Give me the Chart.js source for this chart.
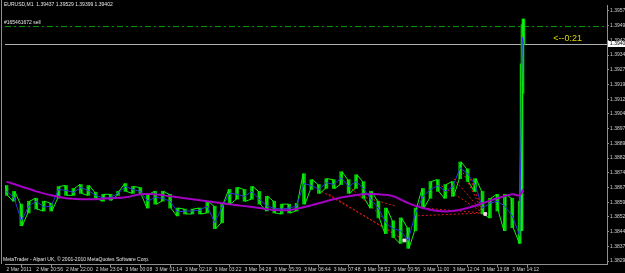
<!DOCTYPE html>
<html>
<head>
<meta charset="utf-8">
<script src="https://cdn.jsdelivr.net/npm/chart.js@4.4.0/dist/chart.umd.min.js"></script>
<style>
  html, body { margin: 0; padding: 0; background: #000; }
  #wrap { width: 625px; height: 273px; position: relative; }
</style>
</head>
<body>
<div id="wrap"><canvas id="chart"></canvas></div>
<script>
// EURUSD M1 samples (bar number, 32 bars per time label)
const barIndex = [0, 8, 16, 24, 32, 40, 48, 56, 64, 72, 80, 88, 96, 104, 112, 120, 128, 136, 144, 152,
    160, 168, 176, 184, 192, 200, 208, 216, 224, 232, 240, 248, 256, 264, 272, 280, 288, 296, 304, 312,
    320, 328, 336, 344, 352, 360, 368, 376, 384, 392, 400, 408, 416, 424, 432, 440, 448, 456, 464, 472,
    480, 488, 496, 504, 512, 520, 528, 536, 544, 552, 554, 555, 556];
const highs = [1.38680, 1.38650, 1.38585, 1.38600, 1.38615, 1.38600, 1.38590, 1.38675, 1.38680, 1.38665,
    1.38685, 1.38680, 1.38645, 1.38635, 1.38635, 1.38650, 1.38690, 1.38675, 1.38670, 1.38635,
    1.38650, 1.38650, 1.38635, 1.38565, 1.38560, 1.38560, 1.38565, 1.38600, 1.38575, 1.38585,
    1.38660, 1.38670, 1.38660, 1.38675, 1.38650, 1.38625, 1.38600, 1.38585, 1.38585, 1.38590,
    1.38740, 1.38710, 1.38685, 1.38715, 1.38710, 1.38750, 1.38710, 1.38735, 1.38700, 1.38650,
    1.38600, 1.38565, 1.38500, 1.38515, 1.38465, 1.38565, 1.38665, 1.38700, 1.38710, 1.38685,
    1.38700, 1.38800, 1.38765, 1.38715, 1.38650, 1.38615, 1.38635, 1.38635, 1.38615,
    1.38600, 1.39300, 1.39500, 1.39529];
const lows = [1.38630, 1.38600, 1.38475, 1.38540, 1.38560, 1.38550, 1.38550, 1.38615, 1.38630, 1.38630,
    1.38640, 1.38630, 1.38615, 1.38600, 1.38605, 1.38630, 1.38650, 1.38640, 1.38635, 1.38565,
    1.38585, 1.38600, 1.38565, 1.38525, 1.38535, 1.38535, 1.38535, 1.38540, 1.38460, 1.38490,
    1.38585, 1.38610, 1.38600, 1.38610, 1.38585, 1.38550, 1.38540, 1.38535, 1.38540, 1.38550,
    1.38585, 1.38660, 1.38640, 1.38665, 1.38665, 1.38685, 1.38640, 1.38665, 1.38615, 1.38565,
    1.38515, 1.38435, 1.38415, 1.38385, 1.38360, 1.38450, 1.38565, 1.38615, 1.38650, 1.38615,
    1.38625, 1.38715, 1.38700, 1.38650, 1.38535, 1.38515, 1.38550, 1.38450, 1.38465,
    1.38385, 1.38450, 1.39150, 1.39399];
const closes = [1.38650, 1.38620, 1.38500, 1.38575, 1.38600, 1.38570, 1.38575, 1.38660, 1.38655, 1.38645,
    1.38670, 1.38655, 1.38630, 1.38615, 1.38620, 1.38640, 1.38675, 1.38660, 1.38650, 1.38600,
    1.38620, 1.38615, 1.38600, 1.38545, 1.38550, 1.38550, 1.38555, 1.38575, 1.38490, 1.38570,
    1.38640, 1.38635, 1.38625, 1.38650, 1.38610, 1.38575, 1.38565, 1.38560, 1.38565, 1.38575,
    1.38690, 1.38680, 1.38660, 1.38695, 1.38685, 1.38720, 1.38675, 1.38700, 1.38665, 1.38610,
    1.38565, 1.38490, 1.38460, 1.38450, 1.38400, 1.38540, 1.38625, 1.38660, 1.38680, 1.38650,
    1.38675, 1.38770, 1.38740, 1.38685, 1.38565, 1.38590, 1.38600, 1.38575, 1.38525,
    1.38425, 1.39200, 1.39437, 1.39402];

// slow moving average (purple)
const maBars = [0, 16, 32, 48, 64, 80, 96, 112, 128, 144, 160, 176, 192, 208, 224, 240, 256, 272, 288,
    304, 320, 336, 352, 368, 384, 400, 416, 432, 448, 464, 480, 496, 512, 528, 544, 552, 556];
const maValues = [1.38700, 1.38675, 1.38650, 1.38630, 1.38615, 1.38610, 1.38610, 1.38615, 1.38620, 1.38635,
    1.38635, 1.38625, 1.38615, 1.38605, 1.38595, 1.38585, 1.38575, 1.38565, 1.38555, 1.38555,
    1.38570, 1.38590, 1.38610, 1.38625, 1.38635, 1.38635, 1.38625, 1.38590, 1.38565, 1.38550,
    1.38550, 1.38565, 1.38590, 1.38615, 1.38635, 1.38630, 1.38660];

// closed orders (red dotted history lines)
const orderOpenBar = [339, 347, 371, 374, 464, 481, 489, 496, 438, 449];
const orderOpenPrice = [1.38650, 1.38635, 1.38665, 1.38635, 1.38690, 1.38715, 1.38765, 1.38750, 1.38525, 1.38565];
const orderCloseBar = [414, 428, 411, 419, 513, 513, 513, 513, 513, 513];
const orderClosePrice = [1.38445, 1.38400, 1.38490, 1.38575, 1.38540, 1.38540, 1.38540, 1.38540, 1.38540, 1.38540];
const closeMarkBar = [428, 515];
const closeMarkPrice = [1.38400, 1.38535];

// pending order level
const pendingPrice = 1.39490;
const pendingLabel = '#165461672 sell';

const timeLabels = ['2 Mar 2011', '2 Mar 20:56', '2 Mar 22:00', '2 Mar 23:04', '3 Mar 00:08', '3 Mar 01:14',
    '3 Mar 02:18', '3 Mar 03:22', '3 Mar 04:28', '3 Mar 05:39', '3 Mar 06:44', '3 Mar 07:48',
    '3 Mar 08:52', '3 Mar 09:56', '3 Mar 11:00', '3 Mar 12:04', '3 Mar 13:08', '3 Mar 14:12'];
const priceTicks = [1.38295, 1.38370, 1.38445, 1.38520, 1.38595, 1.38670, 1.38745, 1.38820, 1.38895,
    1.38970, 1.39045, 1.39120, 1.39195, 1.39270, 1.39345, 1.39420, 1.39495, 1.39570];

const headerText = 'EURUSD,M1  1.39437 1.39529 1.39399 1.39402';
const timerText = '<--0:21';
const copyrightText = 'MetaTrader - Alpari UK, \u00a9 2001-2010 MetaQuotes Software Corp.';

const X_MIN = -1.6, X_MAX = 645.9;
const FONT = '"Liberation Sans", Arial, sans-serif';
const bid = closes[closes.length - 1];

// build datasets
const rangeData = barIndex.map((b, i) => ({ x: b, y: [lows[i], highs[i]] }));
const zigzag = [];
barIndex.forEach((b, i) => {
    const step = i < barIndex.length - 4 ? 1 : 0.3;
    zigzag.push({ x: b - step, y: i % 2 ? lows[i] : highs[i] });
    zigzag.push({ x: b + step, y: i % 2 ? highs[i] : lows[i] });
});
const closeLine = barIndex.map((b, i) => ({ x: b, y: closes[i] }));
const maLine = maBars.map((b, i) => ({ x: b, y: maValues[i] }));

const orderSets = orderOpenBar.map((b, i) => ({
    type: 'line',
    data: [{ x: b, y: orderOpenPrice[i] }, { x: orderCloseBar[i], y: orderClosePrice[i] }],
    borderColor: '#e01818',
    borderWidth: 1,
    borderDash: [2, 2],
    pointRadius: 0,
    order: 4
}));

const overlay = {
    id: 'mtOverlay',
    beforeDatasetsDraw(chart) {
        const { ctx, chartArea, scales } = chart;
        const y = Math.round(scales.y.getPixelForValue(bid)) + 0.5;
        ctx.save();
        ctx.strokeStyle = '#b0b0b0';
        ctx.lineWidth = 1;
        ctx.beginPath();
        ctx.moveTo(chartArea.left, y);
        ctx.lineTo(chartArea.right, y);
        ctx.stroke();
        ctx.restore();
    },
    afterDraw(chart) {
        const { ctx, chartArea, scales } = chart;
        ctx.save();
        // left frame
        ctx.strokeStyle = '#909090';
        ctx.lineWidth = 1;
        ctx.beginPath();
        ctx.moveTo(1.5, 0);
        ctx.lineTo(1.5, chartArea.bottom);
        ctx.stroke();

        ctx.textBaseline = 'middle';
        ctx.font = '5px ' + FONT;
        ctx.fillStyle = '#e8e8e8';
        ctx.fillText(headerText, 4, 5);
        ctx.fillText(pendingLabel, 4, scales.y.getPixelForValue(pendingPrice) - 4);
        ctx.fillText(copyrightText, 3, 260);

        // bid price box on the axis
        const y = Math.round(scales.y.getPixelForValue(bid));
        ctx.fillStyle = '#ffffff';
        ctx.fillRect(chartArea.right + 1, y - 3, 30, 6);
        ctx.fillStyle = '#000000';
        ctx.fillText(bid.toFixed(5), chartArea.right + 3, y);

        // bar timer
        ctx.font = '9px ' + FONT;
        ctx.fillStyle = '#d8d800';
        ctx.textBaseline = 'bottom';
        ctx.fillText(timerText, scales.x.getPixelForValue(588), y - 1);
        ctx.restore();
    }
};

new Chart(document.getElementById('chart'), {
    type: 'bar',
    data: {
        datasets: [
            {
                type: 'line',
                data: maLine,
                borderColor: '#a400c4',
                borderWidth: 2,
                pointRadius: 0,
                tension: 0.3,
                order: 1
            },
            {
                type: 'line',
                data: closeLine,
                borderColor: '#3030e0',
                borderWidth: 1,
                pointRadius: 0,
                order: 2
            },
            {
                type: 'line',
                data: zigzag,
                borderColor: '#10f010',
                borderWidth: 1,
                pointRadius: 0,
                order: 3
            },
            {
                type: 'bar',
                data: rangeData,
                backgroundColor: '#00c800',
                barThickness: 3,
                order: 3
            },
            {
                type: 'line',
                data: [{ x: X_MIN, y: pendingPrice }, { x: X_MAX, y: pendingPrice }],
                borderColor: '#00a000',
                borderWidth: 1,
                borderDash: [6, 3, 2, 3],
                pointRadius: 0,
                order: 5
            },
            {
                type: 'scatter',
                data: closeMarkBar.map((b, i) => ({ x: b, y: closeMarkPrice[i] })),
                pointStyle: 'rect',
                pointRadius: 2,
                backgroundColor: '#ffd0f0',
                borderColor: '#ffd0f0',
                order: 0
            },
            ...orderSets
        ]
    },
    options: {
        responsive: true,
        maintainAspectRatio: false,
        animation: false,
        layout: { padding: 0 },
        plugins: {
            legend: { display: false },
            tooltip: { enabled: false }
        },
        scales: {
            x: {
                type: 'linear',
                min: X_MIN,
                max: X_MAX,
                offset: false,
                grid: { drawOnChartArea: false, drawTicks: true, tickLength: 3, color: '#909090' },
                border: { color: '#909090' },
                afterBuildTicks: s => { s.ticks = timeLabels.map((_, k) => ({ value: k * 32 })); },
                afterFit: s => { s.height = 9; },
                ticks: {
                    autoSkip: false,
                    maxRotation: 0,
                    align: 'start',
                    padding: 0,
                    color: '#d0d0d0',
                    font: { family: FONT, size: 5 },
                    callback: v => timeLabels[Math.round(v / 32)] || ''
                }
            },
            y: {
                type: 'linear',
                position: 'right',
                min: 1.3828,
                max: 1.396,
                grid: { drawOnChartArea: false, drawTicks: true, tickLength: 2, color: '#909090' },
                border: { color: '#909090' },
                afterBuildTicks: s => { s.ticks = priceTicks.map(v => ({ value: v })); },
                afterFit: s => { s.width = 18; },
                ticks: {
                    padding: 1,
                    color: '#d0d0d0',
                    font: { family: FONT, size: 5 },
                    callback: v => v.toFixed(5)
                }
            }
        }
    },
    plugins: [overlay]
});
</script>
</body>
</html>
